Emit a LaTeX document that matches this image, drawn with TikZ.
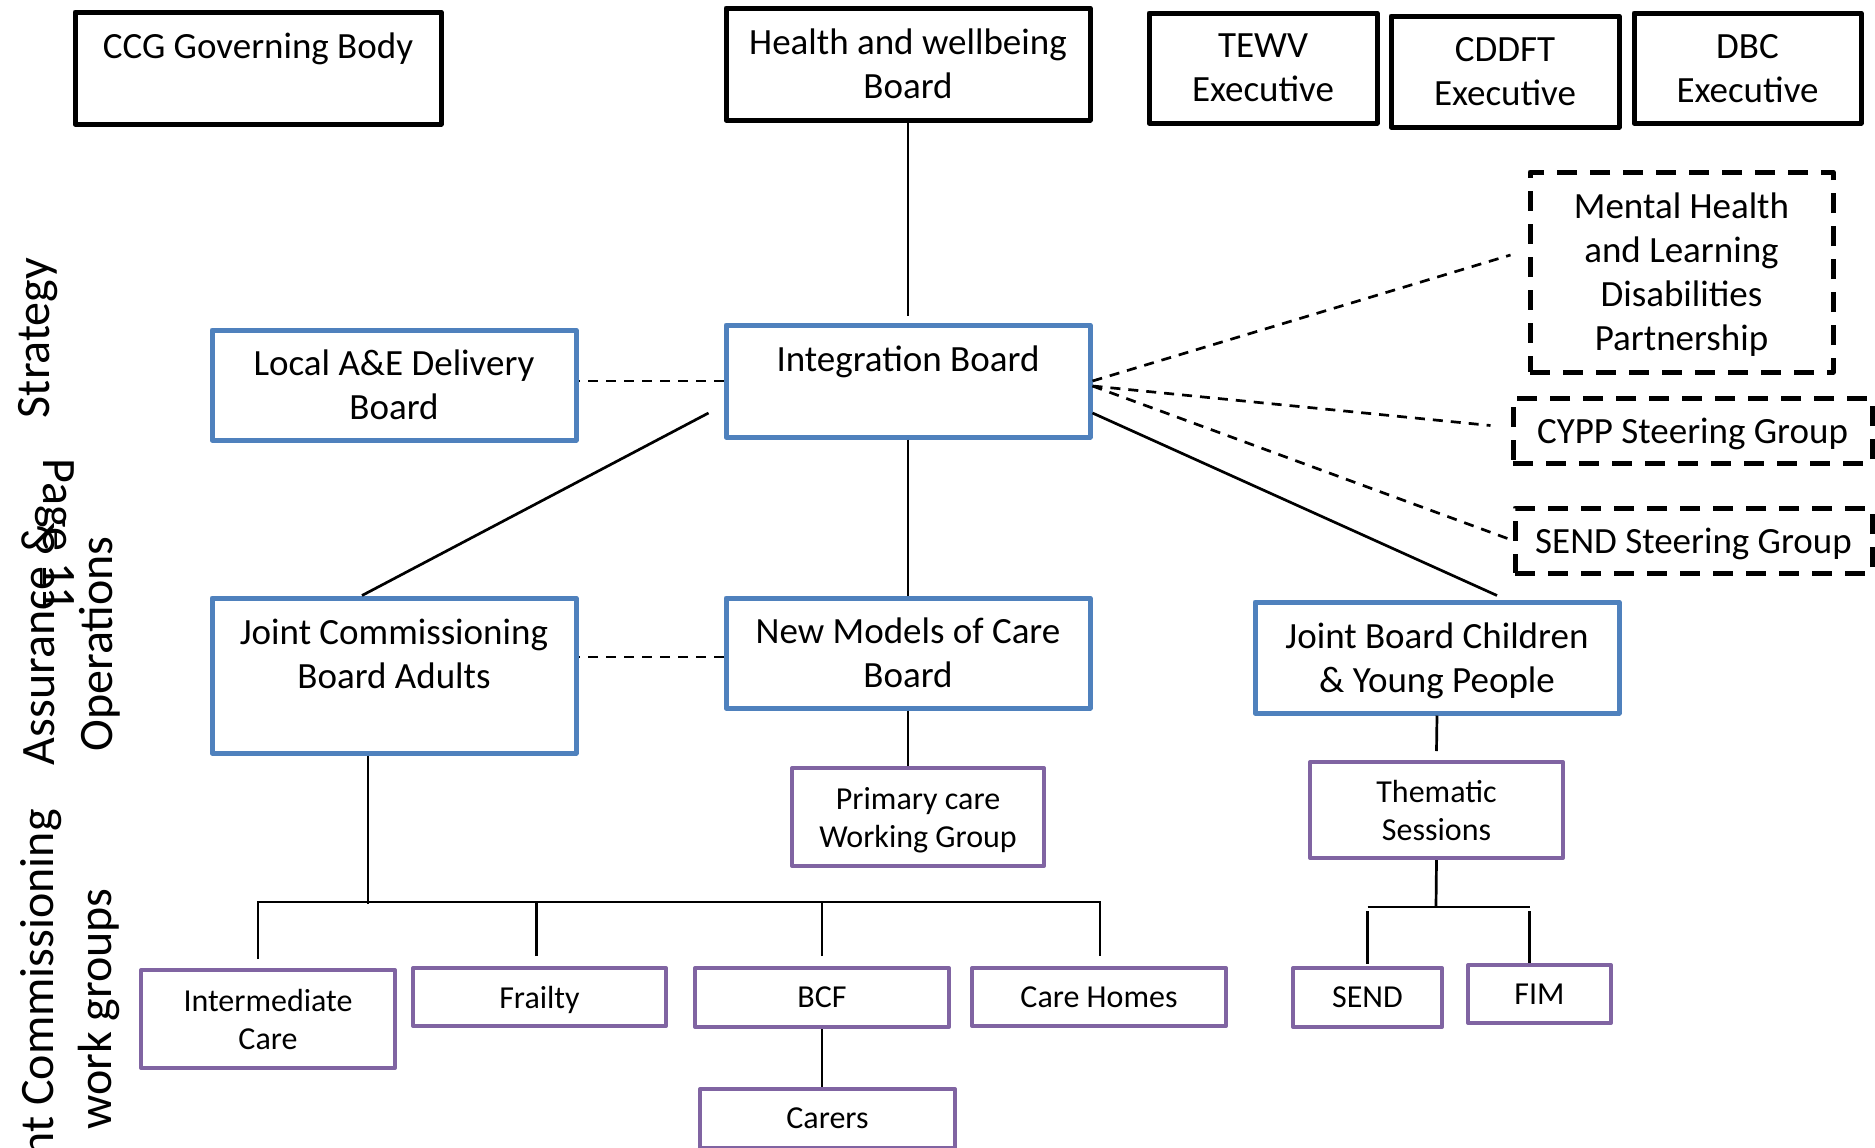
\documentclass[tikz,border=0pt]{standalone}
\usepackage{fontspec}
\setmainfont{Carlito}
\usetikzlibrary{calc}
\definecolor{boxblue}{HTML}{4F81BD}
\definecolor{boxpurple}{HTML}{8064A2}
\tikzset{
  big/.style={font=\fontsize{18.5}{22}\selectfont, align=center, text depth=0pt},
  small/.style={font=\fontsize{16}{19}\selectfont, align=center, text depth=0pt},
  side/.style={font=\fontsize{24}{29}\selectfont, align=center, inner sep=0pt},
  blackbox/.style={big, draw=black, line width=2.5pt, line join=round, inner sep=0pt},
  dashbox/.style={big, draw=black, line width=2.5pt, dash pattern=on 10pt off 6.5pt, line join=round, inner sep=0pt},
  bluebox/.style={big, draw=boxblue, line width=2.5pt, line join=round, inner sep=0pt},
  purplebox/.style={small, draw=boxpurple, line width=2pt, line join=round, inner sep=0pt},
  conn/.style={draw=black, line width=1.35pt},
  dconn/.style={draw=black, line width=1.35pt, dash pattern=on 5pt off 4pt},
  sz/.style 2 args={minimum width=#1*0.5pt, minimum height=#2*0.5pt}
}
\begin{document}
\begin{tikzpicture}[x=0.5pt,y=-0.5pt]
\useasboundingbox (0,0) rectangle (1875,1147);

% side labels
\node[side, rotate=90] (strat) at (38,338) {Strategy};
\node[side, rotate=90] (assur) at (71,644) {Assurance \&\\Operations};
\node[side, rotate=-90] (page) at (55,535) {Page 11};
\node[side, rotate=90] (jcwg) at (70,1009) {Joint Commissioning\\work groups};

% top black boxes
\node[blackbox, sz={366}{112}] (ccg) at (258,68) {CCG Governing Body\\\mbox{}};
\node[blackbox, sz={364}{112}] (hwb) at (908,64) {Health and wellbeing\\Board};
\node[blackbox, sz={228}{110}] (tewv) at (1263,68) {TEWV\\Executive};
\node[blackbox, sz={228}{111}] (cddft) at (1505,71.5) {CDDFT\\Executive};
\node[blackbox, sz={227}{110}] (dbc) at (1747.5,68) {DBC\\Executive};

% dashed boxes
\node[dashbox, sz={303}{200}] (mh) at (1681.5,272) {Mental Health\\and Learning\\Disabilities\\Partnership};
\node[dashbox, sz={359}{65}] (cypp) at (1692.5,430.5) {CYPP Steering Group};
\node[dashbox, sz={357}{65}] (sendsg) at (1693.5,540.5) {SEND Steering Group};

% blue boxes
\node[bluebox, sz={364}{110}] (ae) at (394,385) {Local A\&E Delivery\\Board};
\node[bluebox, sz={364}{112}] (ib) at (908,381) {Integration Board\\\mbox{}};
\node[bluebox, sz={364}{155}] (jcba) at (394,675.5) {Joint Commissioning\\Board Adults\\\mbox{}};
\node[bluebox, sz={364}{110}] (nmc) at (908,653) {New Models of Care\\Board};
\node[bluebox, sz={364}{111}] (jbc) at (1437,657.5) {Joint Board Children\\\& Young People};

% purple boxes
\node[purplebox, sz={252}{98}] (pc) at (918,817) {Primary care\\Working Group};
\node[purplebox, sz={254}{98}] (ic) at (268,1019) {Intermediate\\Care};
\node[purplebox, sz={253}{58}] (frailty) at (539.5,997) {Frailty};
\node[purplebox, sz={254}{59}] (bcf) at (822,997.5) {BCF};
\node[purplebox, sz={254}{58}] (ch) at (1099,997) {Care Homes};
\node[purplebox, sz={255}{59}] (carers) at (827.5,1118.5) {Carers};
\node[purplebox, sz={253}{96}] (them) at (1436.5,810) {Thematic\\Sessions};
\node[purplebox, sz={149}{59}] (send) at (1367.5,997.5) {SEND};
\node[purplebox, sz={143}{58}] (fim) at (1539.5,994) {FIM};

% connectors
\draw[conn] (hwb.south) -- ($(ib.north)+(0,-7)$);
\draw[dconn] (ib.west) -- (ib.west -| ae.east);
\draw[conn] ($(ib.west)+(-15,32)$) -- ($(jcba.north)+(-32,0)$);
\draw[conn] (ib.south) -- (nmc.north);
\draw[conn] ($(ib.east)+(0,32)$) -- ($(jbc.north)+(60,-4)$);
\draw[dconn] (ib.east) -- ($(mh.west)+(-17,-17)$);
\draw[dconn] ($(ib.east)+(0,5)$) -- ($(cypp.west)+(-20,-5)$);
\draw[dconn] ($(ib.east)+(0,5)$) -- ($(sendsg.west)+(-5,-2)$);
\draw[dconn] ($(nmc.west)+(0,4)$) -- ($(nmc.west -| jcba.east)+(0,4)$);
\draw[conn] (nmc.south) -- (nmc.south |- pc.north);

\coordinate (barA) at (368,904);
\draw[conn] (barA |- jcba.south) -- (barA);
\draw[conn] ($(ic.north)+(-10,-9)$) |- ($(ch.north)+(1,-64)$) -- ($(ch.north)+(1,-10)$);
\draw[conn] ($(frailty.north)+(-3,-10)$) -- ++(0,-54);
\draw[conn] ($(bcf.north)+(0,-10)$) -- ++(0,-54);
\draw[conn] (bcf.south) -- (bcf.south |- carers.north);

\draw[conn] (jbc.south) -- ($(them.north)+(0,-9)$);
\coordinate (barB) at (1436,907);
\draw[conn] (them.south) -- (barB);
\draw[conn] (send.north |- barB) -- ($(fim.north |- barB)+(-10,0)$);
\draw[conn] ($(send.north)+(0,-55)$) -- ($(send.north)+(0,-2)$);
\draw[conn] ($(fim.north)+(-10,-52)$) -- ($(fim.north)+(-10,0)$);
\end{tikzpicture}
\end{document}
